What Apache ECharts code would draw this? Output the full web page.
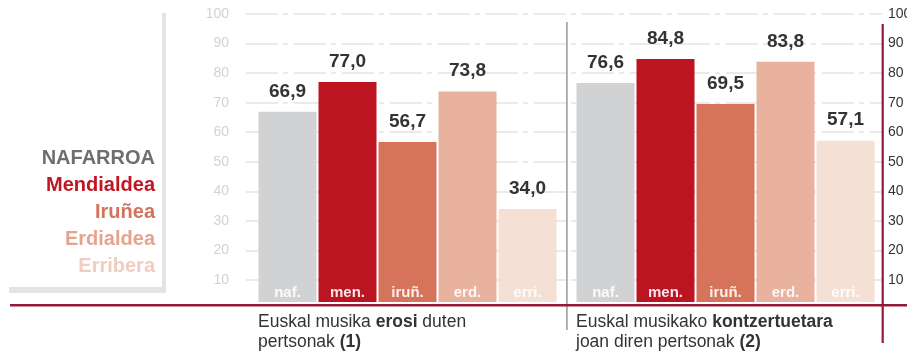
<!DOCTYPE html>
<html>
<head>
<meta charset="utf-8">
<script src="https://cdn.jsdelivr.net/npm/echarts@6/dist/echarts.min.js"></script>
<style>
  html, body { margin: 0; padding: 0; background: #fff; }
  #chart { width: 907px; height: 353px; }
</style>
</head>
<body>
<div id="chart"></div>
<script>
// Bar categories (area abbreviations) and legend names
const categories = ['naf.', 'men.', 'iruñ.', 'erd.', 'erri.'];
const regions = ['NAFARROA', 'Mendialdea', 'Iruñea', 'Erdialdea', 'Erribera'];

// Percentages per area
const erosiValues = [66.9, 77.0, 56.7, 73.8, 34.0];       // buy Basque music
const kontzertuValues = [76.6, 84.8, 69.5, 83.8, 57.1];   // go to Basque music concerts

// Value axis ticks
const yMin = 0;
const yMax = 100;
const yStep = 10;

// Palette
const barColors = ['#d1d2d4', '#bc1420', '#d6735b', '#e8b29e', '#f5e0d6'];
const legendColors = ['#6d6e71', '#be1622', '#d4725b', '#e5a48f', '#f1cdbf'];
const ruleRed = '#961838';
const font = '"Liberation Sans", Arial, Helvetica, sans-serif';

const chart = echarts.init(document.getElementById('chart'), null, { renderer: 'canvas' });

const fmt = v => v.toFixed(1).replace('.', ',');

// axis index = grid index for the two bar panels
function barSeries(values, idx) {
  return {
    type: 'bar',
    xAxisIndex: idx,
    yAxisIndex: idx,
    barWidth: 58,
    data: values.map((v, i) => ({ value: v, itemStyle: { color: barColors[i] } })),
    label: {
      show: true,
      position: 'top',
      distance: 11,
      formatter: p => fmt(p.value),
      fontFamily: font,
      fontWeight: 'bold',
      fontSize: 19,
      color: '#333333'
    },
    emphasis: { disabled: true },
    silent: true
  };
}

function barXAxis(gridIndex) {
  return {
    type: 'category',
    gridIndex: gridIndex,
    data: categories,
    z: 5,
    axisLine: { show: false },
    axisTick: { show: false },
    axisLabel: {
      inside: true,
      margin: 2,
      verticalAlign: 'bottom',
      fontFamily: font,
      fontWeight: 'bold',
      fontSize: 15,
      color: 'rgba(255,255,255,0.9)'
    }
  };
}

function barYAxis(gridIndex) {
  // bars stand on a thin plinth just above the baseline rule
  return {
    type: 'value', gridIndex: gridIndex, min: 2.5, max: yMax,
    show: false, splitLine: { show: false }
  };
}

const option = {
  backgroundColor: '#ffffff',
  animation: false,
  grid: [
    // frame for the dashed guide lines and both scales
    { left: 246, right: 25, top: 14, bottom: 43.5, outerBoundsMode: 'none' },
    // bars: purchases
    { left: 257.5, width: 300, top: 14, bottom: 51, outerBoundsMode: 'none' },
    // bars: concerts
    { left: 575.5, width: 300, top: 14, bottom: 51, outerBoundsMode: 'none' }
  ],
  xAxis: [
    { type: 'value', gridIndex: 0, min: 0, max: 1, show: false },
    barXAxis(1),
    barXAxis(2)
  ],
  yAxis: [
    {
      type: 'value', gridIndex: 0, min: yMin, max: yMax, interval: yStep,
      position: 'left',
      axisLine: { show: false },
      axisTick: { show: false },
      axisLabel: {
        margin: 17, fontFamily: font, fontSize: 14, color: '#d2d2d2',
        formatter: v => (v === 0 ? '' : String(v))
      },
      splitLine: {
        show: true, showMinLine: false,
        lineStyle: { color: '#e3e3e3', width: 1.5, type: [32, 5, 5, 6] }
      }
    },
    barYAxis(1),
    barYAxis(2),
    {
      type: 'value', gridIndex: 0, min: yMin, max: yMax, interval: yStep,
      position: 'right',
      axisLine: { show: false },
      axisTick: { show: false },
      splitLine: { show: false },
      axisLabel: {
        margin: 6, fontFamily: font, fontSize: 14, color: '#333333',
        formatter: v => (v === 0 ? '' : String(v))
      }
    }
  ],
  series: [
    barSeries(erosiValues, 1),
    barSeries(kontzertuValues, 2)
  ],
  graphic: {
    elements: [
      // legend frame
      { type: 'rect', shape: { x: 9, y: 287, width: 157, height: 6 }, style: { fill: '#e4e4e6' }, z: 1 },
      { type: 'rect', shape: { x: 162, y: 13, width: 4, height: 280 }, style: { fill: '#e4e4e6' }, z: 1 },
      // legend names
      ...regions.map((name, i) => ({
        type: 'text', z: 10,
        style: {
          x: 155, y: 158 + i * 27, text: name,
          align: 'right', verticalAlign: 'middle',
          font: 'bold 20px ' + font, fill: legendColors[i]
        }
      })),
      // separator between the two groups
      { type: 'rect', shape: { x: 566, y: 22, width: 1.8, height: 308 }, style: { fill: '#a8a8a8' }, z: 10 },
      // baseline rule and right-hand rule
      { type: 'rect', shape: { x: 10, y: 304, width: 897, height: 2.4 }, style: { fill: ruleRed }, z: 10 },
      { type: 'rect', shape: { x: 881.6, y: 24, width: 2.2, height: 319 }, style: { fill: ruleRed }, z: 10 },
      // group captions
      {
        type: 'text', z: 10,
        style: {
          x: 258, y: 312,
          text: 'Euskal musika {b|erosi} duten\npertsonak {b|(1)}',
          font: '17.5px ' + font, fill: '#333333', lineHeight: 20,
          rich: { b: { font: 'bold 17.5px ' + font, fill: '#333333', lineHeight: 20 } }
        }
      },
      {
        type: 'text', z: 10,
        style: {
          x: 576, y: 312,
          text: 'Euskal musikako {b|kontzertuetara}\njoan diren pertsonak {b|(2)}',
          font: '17.5px ' + font, fill: '#333333', lineHeight: 20,
          rich: { b: { font: 'bold 17.5px ' + font, fill: '#333333', lineHeight: 20 } }
        }
      }
    ]
  }
};

chart.setOption(option);
</script>
</body>
</html>
